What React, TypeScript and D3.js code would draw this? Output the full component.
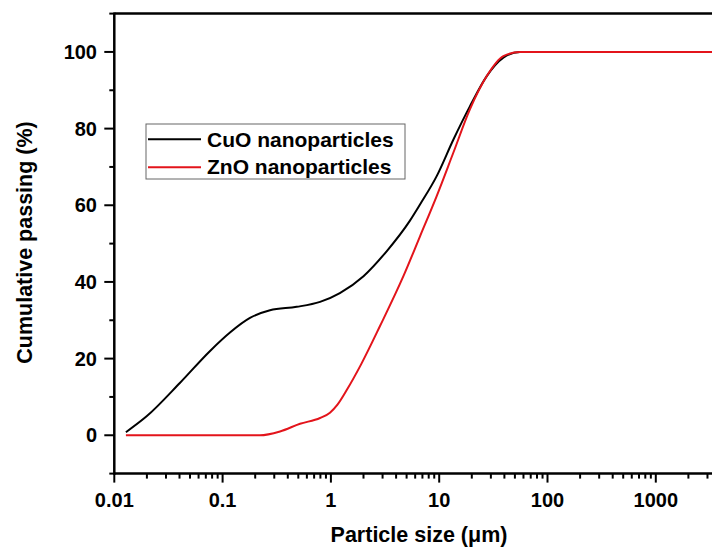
import React from 'react';
import * as d3 from 'd3';

// particle sizes (um) and cumulative passing (%)
const cuoSize = [0.0128, 0.02, 0.0405, 0.0766, 0.117, 0.179, 0.274, 0.483, 0.794, 1.21, 2.0, 3.27, 5.37, 6.65, 9.48, 13.5, 19.2, 27.5, 39.1, 55.7, 3500];
const cuoPass = [0.8, 5.0, 13.7, 22.0, 26.8, 30.6, 32.6, 33.5, 34.8, 37.1, 41.5, 48.0, 56.0, 60.2, 67.6, 77.1, 85.8, 93.7, 98.5, 100, 100];

const znoSize = [0.0128, 0.221, 0.339, 0.519, 0.794, 0.98, 1.15, 1.4, 1.9, 2.84, 4.67, 6.65, 9.48, 13.5, 19.2, 27.5, 39.1, 55.7, 3500];
const znoPass = [0, 0, 1.0, 3.0, 4.5, 5.9, 8.0, 11.8, 18.5, 28.5, 41.5, 51.9, 62.4, 73.7, 85.0, 93.7, 98.9, 100, 100];

const seriesNames = ['CuO nanoparticles', 'ZnO nanoparticles'];
const seriesColors = ['#000000', '#e3141b'];

const W = 712;
const H = 549;
const FONT = '"Liberation Sans", Arial, sans-serif';

export default function App() {
  // scales: plot area continues past the right edge of the picture
  const x = d3.scaleLog().domain([0.01, 10000]).range([114.3, 114.3 + 6 * 108.3]);
  const y = d3.scaleLinear().domain([-10, 110]).range([473.6, 13.6]);

  const line = d3.line<[number, number]>()
    .curve(d3.curveMonotoneX)
    .x(d => x(d[0]))
    .y(d => y(d[1]));

  const cuo = cuoSize.map((s, i) => [s, cuoPass[i]] as [number, number]);
  const zno = znoSize.map((s, i) => [s, znoPass[i]] as [number, number]);

  const xTicks = x.ticks();
  const yTicks = y.ticks(12);
  const fmt = d3.format('~g');
  const isDecade = (v: number) => Math.abs(Math.log10(v) - Math.round(Math.log10(v))) < 1e-6;

  const x0 = x.range()[0];
  const yBottom = y.range()[0];
  const yTop = y.range()[1];

  return (
    <svg width={W} height={H} style={{ position: 'absolute', left: 0, top: 0, background: '#fff', overflow: 'hidden' }}
      fontFamily={FONT} fontWeight="bold">
      {/* lines */}
      <path d={line(cuo) || ''} fill="none" stroke={seriesColors[0]} strokeWidth={2} />
      <path d={line(zno) || ''} fill="none" stroke={seriesColors[1]} strokeWidth={2} />

      {/* frame */}
      <line x1={x0} x2={W + 10} y1={yTop} y2={yTop} stroke="#000" strokeWidth={2.5} />
      <line x1={x0} x2={W + 10} y1={yBottom} y2={yBottom} stroke="#000" strokeWidth={2.5} />
      <line x1={x0} x2={x0} y1={yTop - 1.2} y2={yBottom + 1.2} stroke="#000" strokeWidth={2.5} />

      {/* x ticks */}
      {xTicks.map((t, i) => {
        const major = isDecade(t);
        return (
          <g key={'x' + i}>
            <line x1={x(t)} x2={x(t)} y1={yBottom} y2={yBottom + (major ? 9 : 5)} stroke="#000" strokeWidth={2} />
            {major && x(t) < W - 20 && (
              <text x={x(t)} y={507} textAnchor="middle" fontSize={20}>{fmt(t)}</text>
            )}
          </g>
        );
      })}

      {/* y ticks */}
      {yTicks.map((t, i) => {
        const major = t % 20 === 0;
        return (
          <g key={'y' + i}>
            <line x1={x0} x2={x0 - (major ? 10 : 5)} y1={y(t)} y2={y(t)} stroke="#000" strokeWidth={2} />
            {major && (
              <text x={97} y={y(t) + 7} textAnchor="end" fontSize={20}>{t}</text>
            )}
          </g>
        );
      })}

      {/* axis titles */}
      <text x={419} y={542} textAnchor="middle" fontSize={21.5}>Particle size (μm)</text>
      <text transform="translate(32,242.5) rotate(-90)" textAnchor="middle" fontSize={21.5}>Cumulative passing (%)</text>

      {/* legend */}
      <rect x={146} y={124} width={259} height={55} fill="#fff" stroke="#666" strokeWidth={1} />
      {seriesNames.map((name, i) => (
        <g key={name}>
          <line x1={148} x2={201} y1={139.3 + i * 28} y2={139.3 + i * 28} stroke={seriesColors[i]} strokeWidth={2} />
          <text x={207} y={146.5 + i * 27} fontSize={21}>{name}</text>
        </g>
      ))}
    </svg>
  );
}
